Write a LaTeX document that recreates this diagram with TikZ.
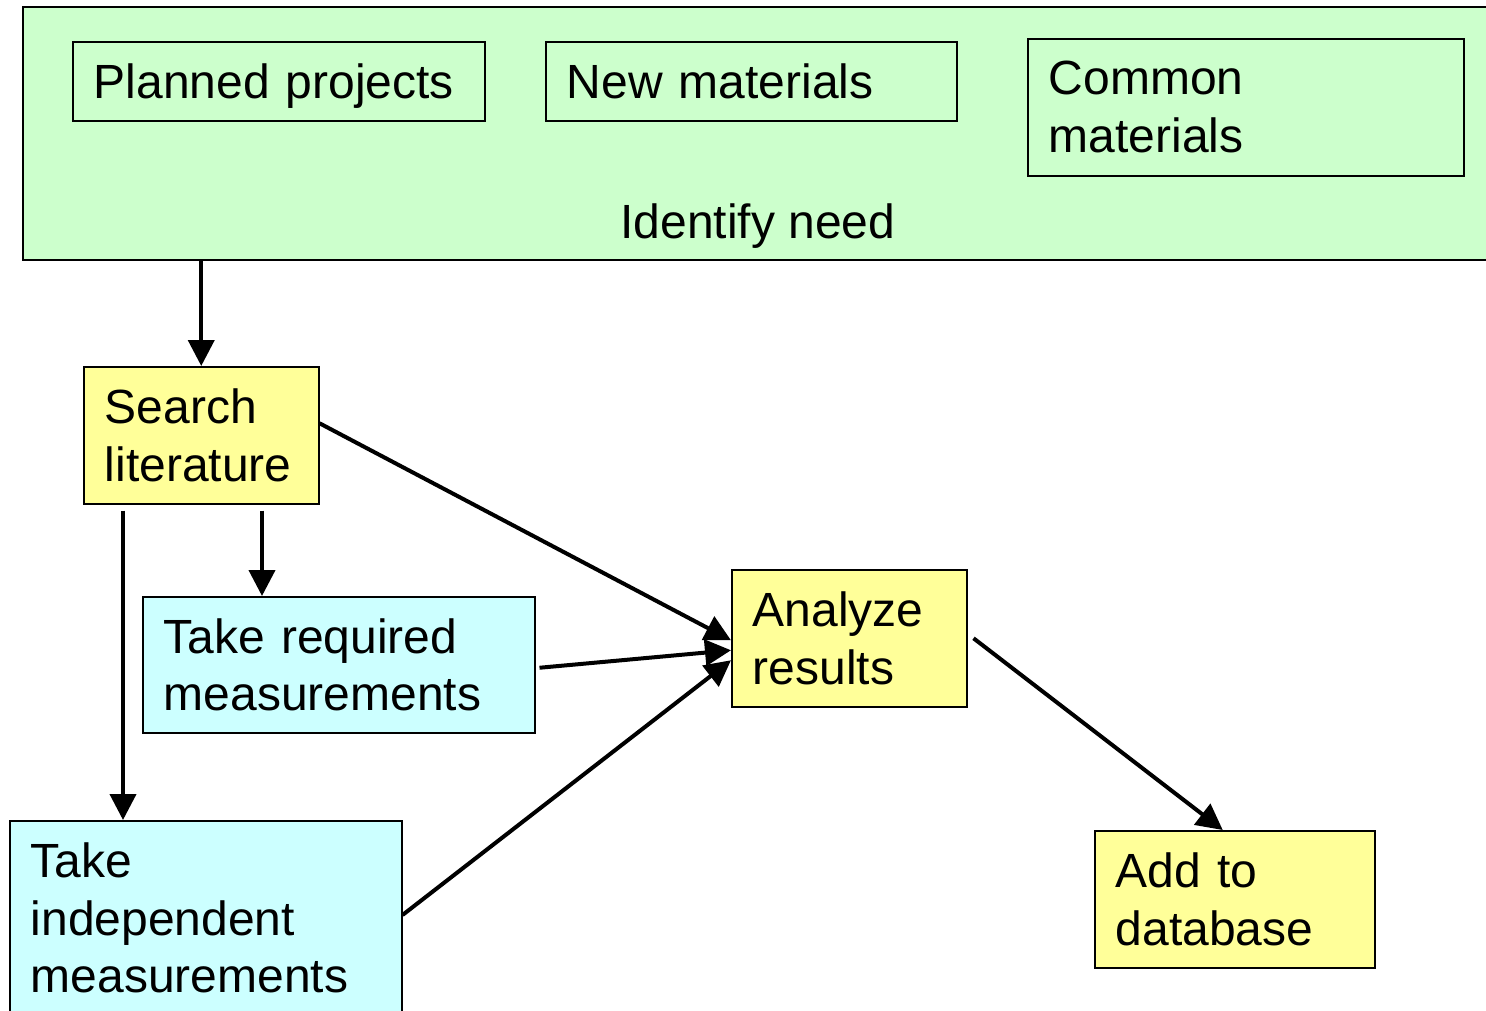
\documentclass[tikz,border=0pt]{standalone}
\usepackage{fontspec}
\setmainfont{Liberation Sans}
\usetikzlibrary{arrows.meta,calc}
\definecolor{needgreen}{HTML}{CCFFCC}
\definecolor{stepyellow}{HTML}{FFFF99}
\definecolor{stepcyan}{HTML}{CCFFFF}
\tikzset{
  bigfont/.style={font=\fontsize{48}{57.6}\selectfont, text=black},
  box/.style={bigfont, draw=black, line width=1.5pt, rectangle, anchor=north west,
    inner xsep=21pt, inner ysep=0pt, align=left},
  arr/.style={line width=4pt, -{Triangle[length=26pt,width=26pt]}},
}
\begin{document}
\begin{tikzpicture}[x=1pt,y=1pt]
\useasboundingbox (0,0) rectangle (1486,-1010);
% Identify need container
\node[box, fill=needgreen, minimum width=1500pt, minimum height=253pt] (need) at (22,-6) {};
\node[bigfont, anchor=base] (needlbl) at (758,-238) {Identify need};
\node[box, minimum width=412pt, minimum height=79pt, text width=370pt, text depth=0pt] (planned) at (72,-41) {Planned projects};
\node[box, minimum width=411pt, minimum height=79pt, text width=369pt] (newmat) at (545,-41) {New materials};
\node[box, minimum width=436pt, minimum height=137pt, text width=394pt] (common) at (1027,-38) {Common\\materials};
% Steps
\node[box, fill=stepyellow, minimum width=235pt, minimum height=137pt, text width=193pt] (search) at (83,-366) {Search\\literature};
\node[box, fill=stepcyan, minimum width=392pt, minimum height=136pt, text width=350pt] (req) at (142,-596) {Take required\\measurements};
\node[box, fill=stepcyan, minimum width=392pt, text width=350pt, inner ysep=22pt] (indep) at (9,-820) {Take\\independent\\measurements};
\node[box, fill=stepyellow, minimum width=235pt, minimum height=137pt, text width=193pt] (analyze) at (731,-569) {Analyze\\results};
\node[box, fill=stepyellow, minimum width=280pt, minimum height=137pt, text width=238pt] (add) at (1094,-830) {Add to\\database};
% Connectors
\coordinate (s1) at ($(search.south west)+(40,-6)$);
\coordinate (s2) at ($(search.south west)+(179,-6)$);
\draw[arr] (need.south -| search.north) -- (search.north);
\draw[arr] (s1) -- (s1 |- indep.north);
\draw[arr] (s2) -- (s2 |- req.north);
\draw[arr] ([yshift=12pt]search.east) -- ([yshift=-2pt]analyze.west);
\draw[arr] ([xshift=4pt,yshift=-3pt]req.east) -- ([yshift=-12pt]analyze.west);
\draw[arr] ([yshift=-95pt]indep.north east) -- ([yshift=-22pt]analyze.west);
\draw[arr] ([xshift=6pt]analyze.east) -- ([xshift=-12pt]add.north);
\end{tikzpicture}
\end{document}
